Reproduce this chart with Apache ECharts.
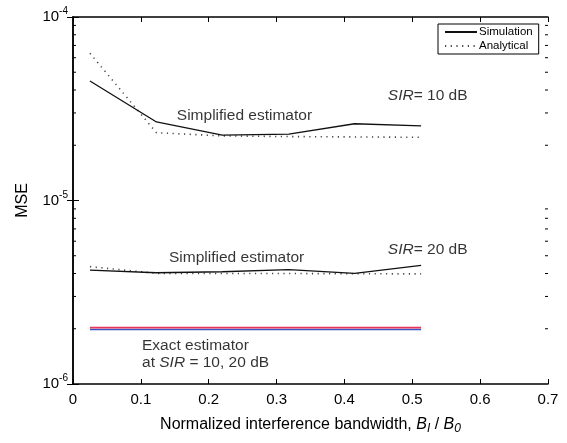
<!DOCTYPE html>
<html lang="en">
<head>
    <meta charset="UTF-8">
    <title>MSE vs bandwidth</title>
    <style>
        html, body {
            margin: 0;
            width: 100%;
            height: 100%;
            background: #ffffff;
            overflow: hidden;
        }

        #container {
            width: 567px;
            height: 443px;
        }
    </style>
</head>
<body>
<div id="container"></div>
<script src="https://cdn.jsdelivr.net/npm/echarts@6/dist/echarts.min.js"></script>
<script>
    // normalized interference bandwidth B_I / B_0
    var xVals = [0.025, 0.123, 0.22, 0.318, 0.415, 0.513];
    // SIR = 10 dB, simplified estimator
    var sim10 = [4.48e-5, 2.68e-5, 2.27e-5, 2.30e-5, 2.62e-5, 2.55e-5];
    var ana10 = [6.34e-5, 2.34e-5, 2.25e-5, 2.23e-5, 2.22e-5, 2.21e-5];
    // SIR = 20 dB, simplified estimator
    var sim20 = [4.17e-6, 4.04e-6, 4.09e-6, 4.20e-6, 4.01e-6, 4.43e-6];
    var ana20 = [4.36e-6, 4.01e-6, 4.00e-6, 4.00e-6, 3.99e-6, 3.98e-6];
    // exact estimator, SIR = 10 and 20 dB
    var exact10 = [2.03e-6, 2.03e-6, 2.03e-6, 2.03e-6, 2.03e-6, 2.03e-6];
    var exact20 = [1.98e-6, 1.98e-6, 1.98e-6, 1.98e-6, 1.98e-6, 1.98e-6];

    var legendNames = ['Simulation', 'Analytical'];

    // text notes in the plot (data coordinates)
    var noteText = ['Simplified estimator', '{i|SIR}= 10 dB', 'Simplified estimator', '{i|SIR}= 20 dB',
        'Exact estimator', 'at {i|SIR} = 10, 20 dB'];
    var noteX = [0.153, 0.464, 0.1415, 0.464, 0.1017, 0.1017];
    var noteY = [2.89e-5, 3.71e-5, 4.86e-6, 5.37e-6, 1.61e-6, 1.30e-6];

    // minor log ticks
    var minorTicks = [];
    [1e-6, 1e-5].forEach(function (d) {
        for (var m = 2; m <= 9; m++) minorTicks.push([0, m * d]);
    });

    function pairs(ys) {
        return xVals.map(function (x, i) { return [x, ys[i]]; });
    }

    var FONT = 'Liberation Sans, Arial, sans-serif';
    var dotted = {color: '#444', width: 1.6, type: [1.2, 4.5]};
    var solid = {color: '#111', width: 1.3, type: 'solid'};

    var chart = echarts.init(document.getElementById('container'));
    var option = {
        animation: false,
        textStyle: {fontFamily: FONT},
        grid: {left: 73, right: 19, top: 17, bottom: 59},
        legend: {
            data: legendNames,
            orient: 'vertical',
            left: 438,
            top: 24,
            itemWidth: 32,
            itemHeight: 11,
            itemGap: 2,
            padding: [2, 6, 2, 6],
            backgroundColor: '#fff',
            borderColor: '#000',
            borderWidth: 1,
            itemStyle: {opacity: 0},
            textStyle: {fontSize: 11.5, color: '#000', padding: [0, 0, 0, -3]}
        },
        xAxis: [{
            type: 'value',
            min: 0,
            max: 0.7,
            interval: 0.1,
            name: 'Normalized interference bandwidth, {i|B}{s|I} / {i|B}{s|0}',
            nameLocation: 'middle',
            nameGap: 30,
            nameTextStyle: {
                fontSize: 16, color: '#000',
                rich: {
                    i: {fontSize: 16, fontStyle: 'italic', color: '#000'},
                    s: {fontSize: 12, fontStyle: 'italic', color: '#000', padding: [9, 0, 0, 0]}
                }
            },
            axisLine: {lineStyle: {color: '#000', width: 1.5}},
            axisTick: {inside: true, length: 5, lineStyle: {color: '#000'}},
            axisLabel: {
                fontSize: 15, color: '#000', margin: 8,
                formatter: function (v) { return v === 0 ? '0' : v.toFixed(1); }
            },
            splitLine: {show: false}
        }, {
            type: 'value',
            position: 'top',
            min: 0,
            max: 0.7,
            interval: 0.1,
            axisLine: {lineStyle: {color: '#000', width: 1.5}},
            axisTick: {inside: true, length: 5, lineStyle: {color: '#000'}},
            axisLabel: {show: false},
            splitLine: {show: false}
        }],
        yAxis: [{
            type: 'log',
            logBase: 10,
            min: 1e-6,
            max: 1e-4,
            name: 'MSE',
            nameLocation: 'middle',
            nameGap: 42,
            nameTextStyle: {fontSize: 16, color: '#000'},
            axisLine: {show: true, lineStyle: {color: '#000', width: 1.5}},
            axisTick: {inside: true, length: 6, lineStyle: {color: '#000'}},
            axisLabel: {
                color: '#000', margin: 5,
                formatter: function (v) {
                    return '{b|10}{e|' + Math.round(Math.log10(v)) + '}';
                },
                rich: {
                    b: {fontSize: 15, color: '#000'},
                    e: {fontSize: 10, color: '#000', padding: [0, 0, 11, 0]}
                }
            },
            splitLine: {show: false}
        }, {
            type: 'log',
            logBase: 10,
            min: 1e-6,
            max: 1e-4,
            position: 'right',
            axisLine: {show: true, lineStyle: {color: '#000', width: 1.5}},
            axisTick: {inside: true, length: 6, lineStyle: {color: '#000'}},
            axisLabel: {show: false},
            splitLine: {show: false}
        }],
        series: [
            {
                name: 'Exact20', type: 'line', symbol: 'none', silent: true,
                lineStyle: {color: '#3a52c2', width: 1.5}, data: pairs(exact20)
            },
            {
                name: 'Exact10', type: 'line', symbol: 'none', silent: true,
                lineStyle: {color: '#e5375a', width: 1.8}, data: pairs(exact10)
            },
            {name: 'Analytical', type: 'line', symbol: 'none', lineStyle: dotted, itemStyle: {color: '#444'}, data: pairs(ana10)},
            {name: 'Analytical', type: 'line', symbol: 'none', lineStyle: dotted, itemStyle: {color: '#444'}, data: pairs(ana20)},
            {name: 'Simulation', type: 'line', symbol: 'none', lineStyle: solid, itemStyle: {color: '#111'}, data: pairs(sim10)},
            {name: 'Simulation', type: 'line', symbol: 'none', lineStyle: solid, itemStyle: {color: '#111'}, data: pairs(sim20)},
            {
                name: 'notes', type: 'scatter', symbolSize: 0, silent: true,
                data: noteText.map(function (t, i) { return {name: t, value: [noteX[i], noteY[i]]}; }),
                label: {
                    show: true, position: 'right', distance: 0,
                    formatter: function (p) { return p.name; },
                    fontSize: 15.5, color: '#000',
                    rich: {i: {fontSize: 15.5, fontStyle: 'italic', color: '#000'}}
                }
            },
            {
                name: 'minor', type: 'custom', silent: true, clip: false,
                data: minorTicks,
                renderItem: function (params, api) {
                    var v = api.value(1);
                    var pl = api.coord([0, v]);
                    var pr = api.coord([0.7, v]);
                    var st = {stroke: '#000', lineWidth: 1};
                    return {
                        type: 'group', children: [
                            {type: 'line', shape: {x1: pl[0], y1: pl[1], x2: pl[0] + 3, y2: pl[1]}, style: st},
                            {type: 'line', shape: {x1: pr[0] - 3, y1: pr[1], x2: pr[0], y2: pr[1]}, style: st}
                        ]
                    };
                }
            }
        ]
    };
    chart.setOption(option);
</script>
</body>
</html>
